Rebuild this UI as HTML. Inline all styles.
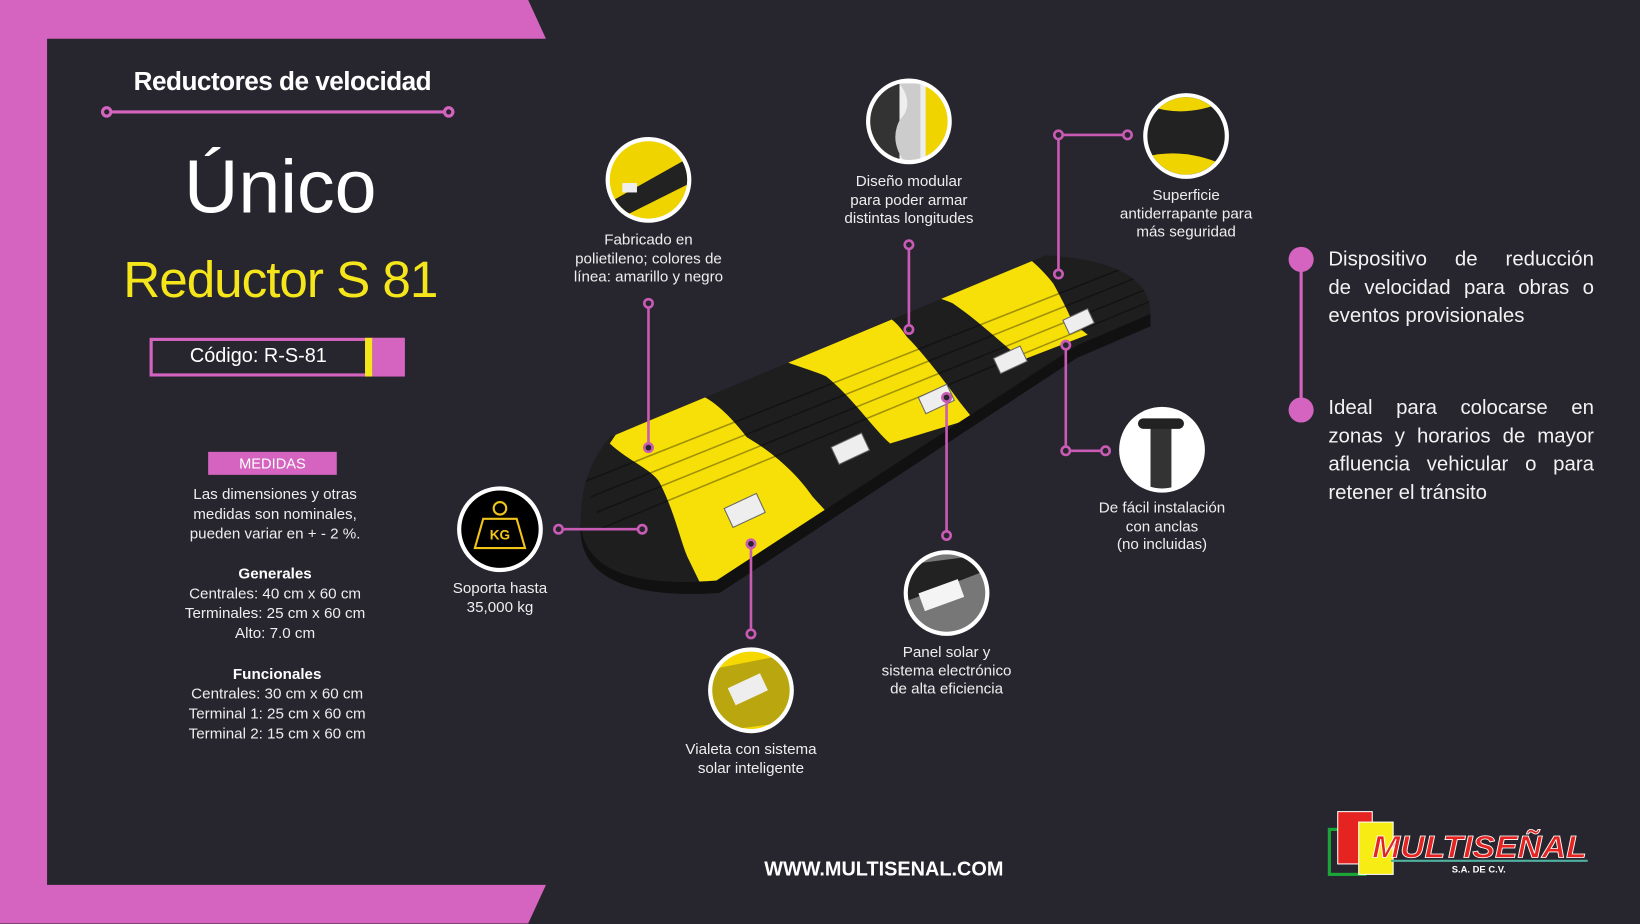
<!DOCTYPE html>
<html><head><meta charset="utf-8"><style>
html,body{margin:0;padding:0;width:1640px;height:924px;overflow:hidden;background:#27262f}
#w{position:absolute;left:0;top:0;width:1568px;height:883px;transform:scale(1.04592);transform-origin:0 0;font-family:"Liberation Sans",sans-serif;color:#fff}
.t{position:absolute;text-align:center;white-space:nowrap}
.c{position:absolute;font-size:14.5px;line-height:17.5px;text-align:center;color:#eee;white-space:nowrap;transform:translateX(-50%)}
.b{position:absolute;left:1270px;width:254px;font-size:19.5px;line-height:27px;color:#f2f2f2}
.b div{text-align:justify;text-align-last:justify;height:27px;white-space:nowrap}
.b div.l{text-align-last:left}
</style></head><body><div id="w">
<svg width="1568" height="883" style="position:absolute;left:0;top:0">
<defs>
<clipPath id="bp"><path d="M583,418 L1000,244 Q1100,250 1100,300 L1030,330 L685,555 Q560,565 555,500 Q555,450 583,418 Z"/></clipPath>
<clipPath id="c1"><circle cx="620" cy="172" r="37"/></clipPath>
<clipPath id="c2"><circle cx="869" cy="116" r="37"/></clipPath>
<clipPath id="c3"><circle cx="1134" cy="130" r="37"/></clipPath>
<clipPath id="c5"><circle cx="1111" cy="430" r="37"/></clipPath>
<clipPath id="c6"><circle cx="905" cy="567" r="37"/></clipPath>
<clipPath id="c7"><circle cx="718" cy="660" r="37"/></clipPath>
</defs>
<polygon points="0,0 505,0 522,37 45,37 45,846 522,846 505,883 0,883" fill="#d464bf"/>
<path d="M555,500 Q560,565 685,555 L1030,330 L1100,300 L1100,312 L1030,342 L688,567 Q560,575 555,510Z" fill="#111"/>
<g clip-path="url(#bp)">
<rect x="540" y="230" width="580" height="350" fill="#1e1e1f"/>
<path d="M583,424 C600,440 625,450 631,462 C645,490 650,515 657,532 L690,600 L800,500 L777,475 C760,450 735,430 714,418 C700,400 685,385 672,379 L640,340Z" fill="#f7df08"/>
<path d="M739,341 C760,350 780,355 790,360 C815,380 835,410 851,424 L930,400 L918,385 C900,360 880,335 867,322 C860,312 855,306 848,303 L760,300Z" fill="#f7df08"/>
<path d="M860,274 C880,280 900,285 911,290 C940,310 965,335 978,344 L1040,320 L1026,309 C1020,295 1012,280 1007,271 C1000,262 990,252 982,246 L900,230Z" fill="#f7df08"/>
<g stroke="#000" stroke-opacity=".35" stroke-width="1.5">
<line x1="560" y1="460" x2="1090" y2="250"/><line x1="565" y1="475" x2="1095" y2="262"/><line x1="570" y1="490" x2="1100" y2="275"/><line x1="575" y1="505" x2="1100" y2="288"/>
</g>
</g>
<g fill="#eee" stroke="#666">
<rect x="695" y="478" width="34" height="20" transform="rotate(-25 712 488)"/>
<rect x="797" y="420" width="32" height="18" transform="rotate(-25 813 429)"/>
<rect x="880" y="373" width="30" height="17" transform="rotate(-25 895 381)"/>
<rect x="952" y="336" width="28" height="16" transform="rotate(-25 966 344)"/>
<rect x="1018" y="300" width="26" height="15" transform="rotate(-25 1031 307)"/>
</g>
<g stroke="#d464bf" stroke-width="3" fill="#27262f">
<line x1="102" y1="107" x2="429" y2="107"/>
<circle cx="102" cy="107" r="4"/><circle cx="429" cy="107" r="4"/>
</g>
<g stroke="#c95bb5" stroke-width="2.5" fill="none">
<polyline points="620,290 620,428"/>
<polyline points="869,234 869,315"/>
<polyline points="1078,129 1012,129 1012,262"/>
<polyline points="534,506 614,506"/>
<polyline points="1019,330 1019,431 1057,431"/>
<polyline points="905,380 905,512"/>
<polyline points="718,520 718,606"/>
</g>
<g stroke="#c95bb5" stroke-width="2.5" fill="#27262f">
<circle cx="620" cy="290" r="4"/><circle cx="620" cy="428" r="4"/>
<circle cx="869" cy="234" r="4"/><circle cx="869" cy="315" r="4"/>
<circle cx="1078" cy="129" r="4"/><circle cx="1012" cy="129" r="4"/><circle cx="1012" cy="262" r="4"/>
<circle cx="534" cy="506" r="4"/><circle cx="614" cy="506" r="4"/>
<circle cx="1019" cy="330" r="4"/><circle cx="1019" cy="431" r="4"/><circle cx="1057" cy="431" r="4"/>
<circle cx="905" cy="380" r="4"/><circle cx="905" cy="512" r="4"/>
<circle cx="718" cy="520" r="4"/><circle cx="718" cy="606" r="4"/>
</g>
<g stroke="#fff" stroke-width="4">
<circle cx="620" cy="172" r="39" fill="#f0d400"/>
<circle cx="869" cy="116" r="39" fill="#eee"/>
<circle cx="1134" cy="130" r="39" fill="#222"/>
<circle cx="478" cy="506" r="39" fill="#000"/>
<circle cx="1111" cy="430" r="39" fill="#fff"/>
<circle cx="905" cy="567" r="39" fill="#777"/>
<circle cx="718" cy="660" r="39" fill="#f5d800"/>
</g>
<g clip-path="url(#c1)"><path d="M580,195 L660,150 L660,175 L580,215Z" fill="#222"/><rect x="595" y="175" width="14" height="9" fill="#eee"/></g>
<g clip-path="url(#c2)"><rect x="830" y="78" width="30" height="80" fill="#333"/><rect x="885" y="78" width="25" height="80" fill="#f0d400"/><path d="M860,80 q15,20 0,35 q-10,20 5,40 h15 v-75z" fill="#ccc"/></g>
<g clip-path="url(#c3)"><path d="M1095,100 Q1134,115 1175,95 V92 H1095Z" fill="#f0d400"/><path d="M1095,150 Q1134,140 1175,160 V170 H1095Z" fill="#f0d400"/></g>
<g clip-path="url(#c5)"><rect x="1100" y="408" width="20" height="60" fill="#333"/><rect x="1088" y="400" width="44" height="10" rx="5" fill="#222"/></g>
<g clip-path="url(#c6)"><path d="M866,540 L944,530 V545 L866,575Z" fill="#222"/><rect x="880" y="560" width="40" height="18" fill="#f4f4f4" transform="rotate(-20 900 569)"/></g>
<g clip-path="url(#c7)"><path d="M680,640 L756,625 V690 L680,700Z" fill="#333" opacity=".3"/><rect x="698" y="650" width="34" height="18" fill="#eee" transform="rotate(-25 715 659)"/></g>
<g stroke="#f0c419" stroke-width="2" fill="none"><circle cx="478" cy="486" r="6"/><path d="M462,496 H494 L502,524 H454Z"/></g>
<text x="478" y="516" fill="#f0c419" font-size="13" font-weight="bold" text-anchor="middle" font-family="Liberation Sans">KG</text>
<line x1="1244" y1="248" x2="1244" y2="392" stroke="#d464bf" stroke-width="3"/>
<circle cx="1244" cy="248" r="12" fill="#d464bf"/><circle cx="1244" cy="392" r="12" fill="#d464bf"/>
<rect x="144.5" y="324.5" width="241" height="34" fill="none" stroke="#d464bf" stroke-width="3"/>
<rect x="349" y="323" width="7" height="37" fill="#f5e51b"/><rect x="356" y="323" width="31" height="37" fill="#d464bf"/>
<rect x="199" y="432" width="123" height="22" fill="#d464bf"/>
<rect x="1271" y="793" width="34" height="43" fill="none" stroke="#1aa637" stroke-width="3"/>
<rect x="1279" y="776" width="33" height="50" fill="#e52320" stroke="#fff" stroke-width="1"/>
<rect x="1299" y="786" width="33" height="50" fill="#f7ec13" stroke="#fff" stroke-width="1"/>
<line x1="1330" y1="823" x2="1518" y2="823" stroke="#4fb0a0" stroke-width="2"/>
<text x="1312" y="820" font-family="Liberation Sans" font-style="italic" font-weight="bold" font-size="30" fill="#e52320" stroke="#fff" stroke-width=".8" textLength="205" lengthAdjust="spacingAndGlyphs">MULTISEÑAL</text>
<text x="1388" y="834" font-family="Liberation Sans" font-weight="bold" font-size="9" fill="#fff">S.A. DE C.V.</text>
</svg>
<div class="t" style="left:70px;width:400px;top:64px;font-size:25px;font-weight:bold;letter-spacing:-0.5px">Reductores de velocidad</div>
<div class="t" style="left:68px;width:400px;top:138px;font-size:72px">Único</div>
<div class="t" style="left:68px;width:400px;top:240px;font-size:49px;color:#f5e51b;letter-spacing:-1px">Reductor S 81</div>
<div class="t" style="left:147px;width:200px;top:330px;font-size:19px">Código: R-S-81</div>
<div class="t" style="left:199px;width:123px;top:435px;font-size:14px;color:#fff">MEDIDAS</div>
<div class="c" style="left:263px;top:464px;line-height:19px">Las dimensiones y otras<br>medidas son nominales,<br>pueden variar en + - 2 %.</div>
<div class="c" style="left:263px;top:540px;line-height:19px"><b style="color:#fff">Generales</b><br>Centrales: 40 cm x 60 cm<br>Terminales: 25 cm x 60 cm<br>Alto: 7.0 cm</div>
<div class="c" style="left:265px;top:636px;line-height:19px"><b style="color:#fff">Funcionales</b><br>Centrales: 30 cm x 60 cm<br>Terminal 1: 25 cm x 60 cm<br>Terminal 2: 15 cm x 60 cm</div>
<div class="c" style="left:620px;top:222px">Fabricado en<br>polietileno; colores de<br>línea: amarillo y negro</div>
<div class="c" style="left:869px;top:166px">Diseño modular<br>para poder armar<br>distintas longitudes</div>
<div class="c" style="left:1134px;top:179px">Superficie<br>antiderrapante para<br>más seguridad</div>
<div class="c" style="left:478px;top:555px">Soporta hasta<br>35,000 kg</div>
<div class="c" style="left:1111px;top:478px">De fácil instalación<br>con anclas<br>(no incluidas)</div>
<div class="c" style="left:905px;top:616px">Panel solar y<br>sistema electrónico<br>de alta eficiencia</div>
<div class="c" style="left:718px;top:709px">Vialeta con sistema<br>solar inteligente</div>
<div class="b" style="top:235px"><div>Dispositivo de reducción</div><div>de velocidad para obras o</div><div class="l">eventos provisionales</div></div>
<div class="b" style="top:377px"><div>Ideal para colocarse en</div><div>zonas y horarios de mayor</div><div>afluencia vehicular o para</div><div class="l">retener el tránsito</div></div>
<div class="t" style="left:645px;width:400px;top:821px;font-size:19px;font-weight:bold">WWW.MULTISENAL.COM</div>
</div></body></html>
